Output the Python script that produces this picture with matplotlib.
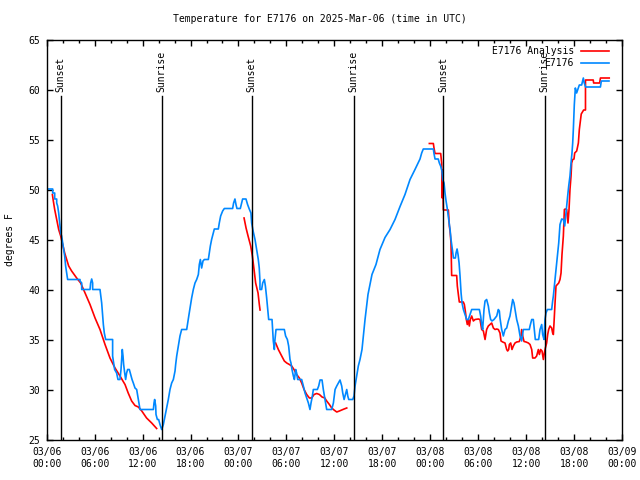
import matplotlib
matplotlib.use("Agg")
import matplotlib.pyplot as plt
import numpy as np

matplotlib.rcParams.update({'font.family': 'DejaVu Sans Mono', 'font.size': 7})

# DATA  (hours since 03/06 00:00 UTC, degrees F)
obs_day1 = [(0.00, 50.1), (0.75, 50.1), (0.75, 49.7), (1.00, 49.7), (1.00, 49.1), (1.25, 49.1),
            (1.25, 48.7), (1.37, 48.4), (1.50, 47.7), (1.62, 46.7), (1.75, 45.7), (1.87, 45.4),
            (2.00, 44.7), (2.12, 44.05), (2.25, 43.4), (2.37, 42.4), (2.50, 41.7), (2.62, 41.05),
            (4.17, 41.05), (4.17, 40.9), (4.38, 40.7), (4.38, 40.05), (5.42, 40.05), (5.50, 40.7),
            (5.63, 41.1), (5.75, 40.7), (5.75, 40.05), (6.67, 40.05), (6.75, 39.55), (6.88, 38.7),
            (7.00, 37.4), (7.09, 36.55), (7.21, 35.7), (7.38, 35.05), (8.25, 35.05), (8.25, 33.4),
            (8.38, 32.7), (8.50, 32.05), (8.75, 31.7), (8.92, 31.05), (9.17, 31.05), (9.30, 32.05),
            (9.38, 33.05), (9.46, 34.05), (9.55, 33.4), (9.63, 32.55), (9.76, 31.7), (9.88, 31.05),
            (10.0, 31.7), (10.13, 32.05), (10.34, 32.05), (10.51, 31.55), (10.68, 31.05), (10.84, 30.7),
            (11.05, 30.2), (11.26, 30.05), (11.47, 29.05), (11.68, 28.05), (13.35, 28.05), (13.43, 28.7),
            (13.51, 29.05), (13.64, 28.4), (13.68, 27.55), (13.85, 27.05), (14.01, 27.05), (14.18, 26.55),
            (14.39, 26.05), (14.6, 26.55), (14.81, 27.4), (15.02, 28.2), (15.22, 29.05), (15.43, 30.05),
            (15.64, 30.7), (15.85, 31.05), (16.06, 31.9), (16.14, 32.55), (16.27, 33.4), (16.47, 34.4),
            (16.68, 35.4), (16.89, 36.05), (17.52, 36.05), (17.64, 36.7), (17.81, 37.55), (17.98, 38.4),
            (18.14, 39.2), (18.35, 40.05), (18.56, 40.7), (18.77, 41.05), (18.98, 41.55), (19.10, 42.55),
            (19.23, 43.05), (19.39, 42.2), (19.56, 42.9), (19.73, 43.05), (20.23, 43.05), (20.35, 43.7),
            (20.48, 44.4), (20.64, 45.05), (20.85, 45.7), (20.98, 46.1), (21.48, 46.1), (21.60, 46.7),
            (21.77, 47.4), (22.02, 47.9), (22.23, 48.15), (23.27, 48.15), (23.39, 48.7), (23.56, 49.1),
            (23.69, 48.55), (23.81, 48.15)]
obs_day2 = [(24.23, 48.15), (24.39, 48.7), (24.52, 49.1), (24.94, 49.1), (25.14, 48.55), (25.35, 48.1),
            (25.56, 47.7), (25.65, 46.7), (25.86, 45.8), (26.07, 45.05), (26.27, 44.05), (26.48, 43.05),
            (26.6, 42.2), (26.69, 40.9), (26.69, 40.05), (26.9, 40.05), (27.03, 40.7), (27.24, 41.05),
            (27.37, 40.4), (27.53, 39.2), (27.7, 37.7), (27.78, 37.05), (28.2, 37.05), (28.28, 36.05),
            (28.36, 34.9), (28.49, 34.05), (28.57, 35.05), (28.7, 36.05), (29.74, 36.05), (29.9, 35.4),
            (30.12, 35.05), (30.28, 34.4), (30.45, 33.05), (30.57, 32.7), (30.7, 32.05), (30.87, 31.4),
            (31.0, 31.05), (31.16, 32.05), (31.28, 31.7), (31.41, 31.05), (31.91, 31.05), (32.12, 30.4),
            (32.33, 29.7), (32.54, 29.2), (32.75, 28.7), (32.95, 28.05), (33.08, 28.7), (33.25, 29.4),
            (33.37, 30.05), (33.87, 30.05), (34.04, 30.4), (34.21, 31.0), (34.46, 31.0), (34.62, 30.05),
            (34.83, 29.05), (35.04, 28.05), (35.67, 28.05), (35.88, 28.7), (36.09, 30.05), (36.3, 30.4),
            (36.5, 30.7), (36.71, 31.0), (36.92, 30.4), (37.05, 29.7), (37.22, 29.05), (37.38, 29.55),
            (37.55, 30.05), (37.68, 29.4), (37.8, 29.05), (38.3, 29.05), (38.46, 29.4), (38.59, 30.4),
            (38.8, 31.4), (39.0, 32.4), (39.21, 33.05), (39.46, 34.05), (39.84, 37.05), (40.21, 39.55),
            (40.71, 41.55), (41.21, 42.55), (41.71, 44.05), (42.34, 45.25), (42.97, 46.05), (43.59, 47.05),
            (44.22, 48.35), (44.84, 49.55), (45.47, 51.05), (46.09, 52.05), (46.72, 53.1), (46.93, 53.7),
            (47.13, 54.1)]
obs_day3 = [(48.39, 54.1), (48.47, 53.65), (48.6, 53.1), (49.0, 53.1), (49.14, 52.7), (49.3, 52.4),
            (49.47, 51.9), (49.56, 51.05), (49.73, 50.7), (49.85, 49.7), (49.98, 48.9), (50.15, 48.05),
            (50.31, 47.05), (50.48, 46.05), (50.6, 45.05), (50.77, 44.05), (50.9, 43.2), (51.15, 43.2),
            (51.23, 43.7), (51.36, 44.1), (51.48, 43.55), (51.61, 42.7), (51.73, 41.4), (51.86, 39.7),
            (51.98, 38.7), (52.15, 38.05), (52.36, 37.55), (52.56, 37.05), (52.77, 37.05), (52.98, 37.55),
            (53.19, 38.05), (54.15, 38.05), (54.31, 37.4), (54.44, 36.55), (54.56, 36.05), (54.73, 38.05),
            (54.86, 38.9), (55.06, 39.05), (55.27, 38.4), (55.4, 37.7), (55.56, 37.05), (55.73, 36.9),
            (55.98, 37.05), (56.32, 37.4), (56.52, 38.05), (56.65, 37.9), (56.73, 37.2), (56.94, 36.05),
            (57.15, 35.4), (57.36, 36.05), (57.57, 36.2), (57.78, 36.9), (57.98, 37.4), (58.19, 38.4),
            (58.32, 39.05), (58.48, 38.7), (58.61, 38.05), (58.82, 37.05), (59.03, 36.4), (59.24, 35.4),
            (59.44, 34.9), (59.65, 36.05), (60.4, 36.05), (60.49, 36.4), (60.7, 37.05), (60.9, 37.05),
            (61.03, 36.05), (61.15, 35.05), (61.57, 35.05), (61.74, 36.05), (61.95, 36.55), (62.07, 35.55),
            (62.24, 35.05), (62.36, 37.05), (62.49, 37.7), (62.66, 38.05), (63.2, 38.05), (63.32, 38.9),
            (63.41, 39.4), (63.53, 40.4), (63.66, 41.4), (63.82, 42.7), (63.95, 43.7), (64.08, 44.7),
            (64.16, 45.7), (64.24, 46.55), (64.45, 47.1), (64.66, 47.05), (64.83, 46.4), (64.95, 47.4),
            (65.08, 48.4), (65.2, 49.4), (65.33, 50.4), (65.49, 51.4), (65.62, 52.7), (65.74, 53.7),
            (65.83, 54.7), (65.91, 56.05), (66.03, 58.5), (66.16, 60.2), (66.32, 59.7), (66.53, 60.2),
            (66.66, 60.5), (66.95, 60.5), (67.16, 61.2), (67.28, 60.7), (67.45, 60.3), (69.3, 60.3),
            (69.41, 60.9), (70.37, 60.9)]

ana_seg1 = [(0.71, 49.55), (0.83, 48.9), (1.0, 48.05), (1.25, 47.05), (1.5, 46.05), (1.75, 45.4),
            (2.0, 44.55), (2.25, 43.7), (2.5, 43.05), (2.75, 42.4), (3.12, 41.9), (3.75, 41.2),
            (4.25, 40.7), (4.8, 39.7), (5.42, 38.55), (6.05, 37.2), (6.67, 36.05), (7.3, 34.55),
            (7.92, 33.2), (8.55, 32.2), (9.17, 31.4), (9.8, 30.55), (10.2, 29.7), (10.63, 28.9),
            (11.05, 28.45), (11.47, 28.3), (11.9, 27.9), (12.5, 27.2), (13.14, 26.7), (13.76, 26.15)]
ana_seg2 = [(24.7, 47.2), (24.95, 46.2), (25.2, 45.4), (25.53, 44.4), (25.74, 43.4), (25.95, 42.05),
            (26.15, 40.7), (26.45, 39.7), (26.61, 38.55), (26.7, 38.0)]
ana_seg3 = [(28.65, 34.7), (28.99, 34.05), (29.41, 33.4), (29.74, 32.9), (30.04, 32.7), (30.37, 32.55),
            (30.66, 32.4), (30.95, 32.05), (31.28, 31.55), (31.62, 31.2), (31.91, 30.7), (32.21, 30.05),
            (32.54, 29.55), (32.88, 29.2), (33.17, 29.2), (33.46, 29.55), (33.79, 29.65), (34.13, 29.55),
            (34.46, 29.3), (34.8, 29.2), (35.04, 28.9), (35.38, 28.55), (35.67, 28.2), (35.96, 28.0),
            (36.3, 27.8), (36.63, 27.9), (36.92, 28.0), (37.22, 28.1), (37.55, 28.2)]
ana_seg4 = [(47.89, 54.65), (48.39, 54.65), (48.47, 54.2), (48.6, 53.65), (49.31, 53.65), (49.43, 52.7),
            (49.5, 49.2), (49.55, 52.0), (49.64, 48.0), (50.27, 48.0), (50.39, 46.4), (50.48, 45.9),
            (50.6, 44.7), (50.68, 41.45), (51.31, 41.45), (51.39, 40.4), (51.52, 39.55), (51.64, 38.8),
            (52.14, 38.8), (52.27, 38.55), (52.39, 37.9), (52.52, 37.05), (52.64, 36.55), (52.77, 37.05),
            (52.89, 36.4), (53.02, 37.05), (53.19, 37.4), (53.4, 36.9), (53.6, 37.05), (54.02, 37.1),
            (54.23, 37.05), (54.44, 36.05), (54.65, 35.9), (54.86, 35.05), (55.06, 36.05), (55.27, 36.4),
            (55.48, 36.55), (55.69, 36.7), (55.9, 36.2), (56.11, 36.05), (56.32, 36.1), (56.52, 36.05),
            (56.73, 35.7), (56.86, 34.9), (57.07, 34.8), (57.36, 34.7), (57.57, 34.05), (57.69, 33.9),
            (57.82, 34.05), (57.9, 34.55), (58.07, 34.7), (58.23, 34.05), (58.4, 34.4), (58.61, 34.7),
            (58.82, 34.8), (59.15, 34.85), (59.36, 35.4), (59.44, 36.05), (59.57, 35.4), (59.74, 34.85),
            (59.99, 34.8), (60.28, 34.7), (60.49, 34.55), (60.7, 34.05), (60.82, 33.2), (61.11, 33.2),
            (61.32, 33.4), (61.53, 34.05), (61.66, 33.55), (61.82, 34.05), (61.99, 33.9), (62.16, 33.05),
            (62.28, 33.7), (62.41, 34.2), (62.57, 34.7), (62.7, 35.55), (62.82, 36.05), (62.99, 36.4),
            (63.2, 36.2), (63.32, 35.7), (63.41, 35.55), (63.49, 36.7), (63.62, 38.7), (63.74, 40.4),
            (63.91, 40.55), (64.08, 40.7), (64.24, 41.05), (64.37, 41.7), (64.49, 43.55), (64.66, 45.4),
            (64.79, 48.05), (64.91, 48.1), (65.08, 48.05), (65.24, 46.7), (65.37, 48.05), (65.49, 50.05),
            (65.62, 51.4), (65.7, 52.7), (65.83, 53.05), (65.99, 53.1), (66.08, 53.7), (66.33, 53.9),
            (66.41, 54.2), (66.54, 54.7), (66.66, 56.05), (66.9, 57.6), (67.2, 58.0), (67.43, 58.0),
            (67.43, 61.0), (68.4, 61.0), (68.45, 60.7), (69.2, 60.7), (69.3, 61.2), (70.4, 61.2)]

sun_hours = [1.75, 14.39, 25.66, 38.42, 49.64, 62.33]
sun_labels = ['Sunset', 'Sunrise', 'Sunset', 'Sunrise', 'Sunset', 'Sunrise']

tick_hours = list(range(0, 73, 6))
tick_labels = ['03/06\n00:00', '03/06\n06:00', '03/06\n12:00', '03/06\n18:00',
               '03/07\n00:00', '03/07\n06:00', '03/07\n12:00', '03/07\n18:00',
               '03/08\n00:00', '03/08\n06:00', '03/08\n12:00', '03/08\n18:00',
               '03/09\n00:00']

fig = plt.figure(figsize=(6.4, 4.8), dpi=100)
ax = fig.add_axes([46.7/640, 40/480, 575.3/640, 400/480])

# analysis (red), drawn first
for i, seg in enumerate([ana_seg1, ana_seg2, ana_seg3, ana_seg4]):
    h, t = zip(*seg)
    ax.plot(h, t, color='#ff0000', lw=1.2, label='E7176 Analysis' if i == 0 else None)

h, t = zip(*(obs_day1 + obs_day2 + obs_day3))
ax.plot(h, t, color='#0088ff', lw=1.2, label='E7176')

# sunrise / sunset markers
for x, lab in zip(sun_hours, sun_labels):
    ax.plot([x, x], [25, 59.35], color='black', lw=1.0, zorder=5)
    ax.text(x, 59.8, lab, rotation=90, ha='center', va='bottom')

ax.set_xlim(0, 72)
ax.set_ylim(25, 65)
ax.set_xticks(tick_hours)
ax.set_xticklabels(tick_labels, linespacing=1.25)
ax.set_xticks(np.arange(0, 73, 2), minor=True)
ax.set_yticks(np.arange(25, 66, 5))
ax.tick_params(which='both', direction='in', top=True, right=True, width=1)
ax.tick_params(which='major', length=4.5, pad=5)
ax.tick_params(which='minor', length=2.5)
for s in ax.spines.values():
    s.set_linewidth(1.0)

fig.text(0.5, 1 - 19/480, 'Temperature for E7176 on 2025-Mar-06 (time in UTC)',
         ha='center', va='center')
fig.text(10/640, 0.5, 'degrees F', rotation=90, ha='center', va='center')

ax.legend(loc='upper right', bbox_to_anchor=(0.9774, 0.985), frameon=False,
          markerfirst=False, borderpad=0, borderaxespad=0, handlelength=2.9,
          handletextpad=0.7, labelspacing=0.22)

fig.savefig('out.png', dpi=100)
